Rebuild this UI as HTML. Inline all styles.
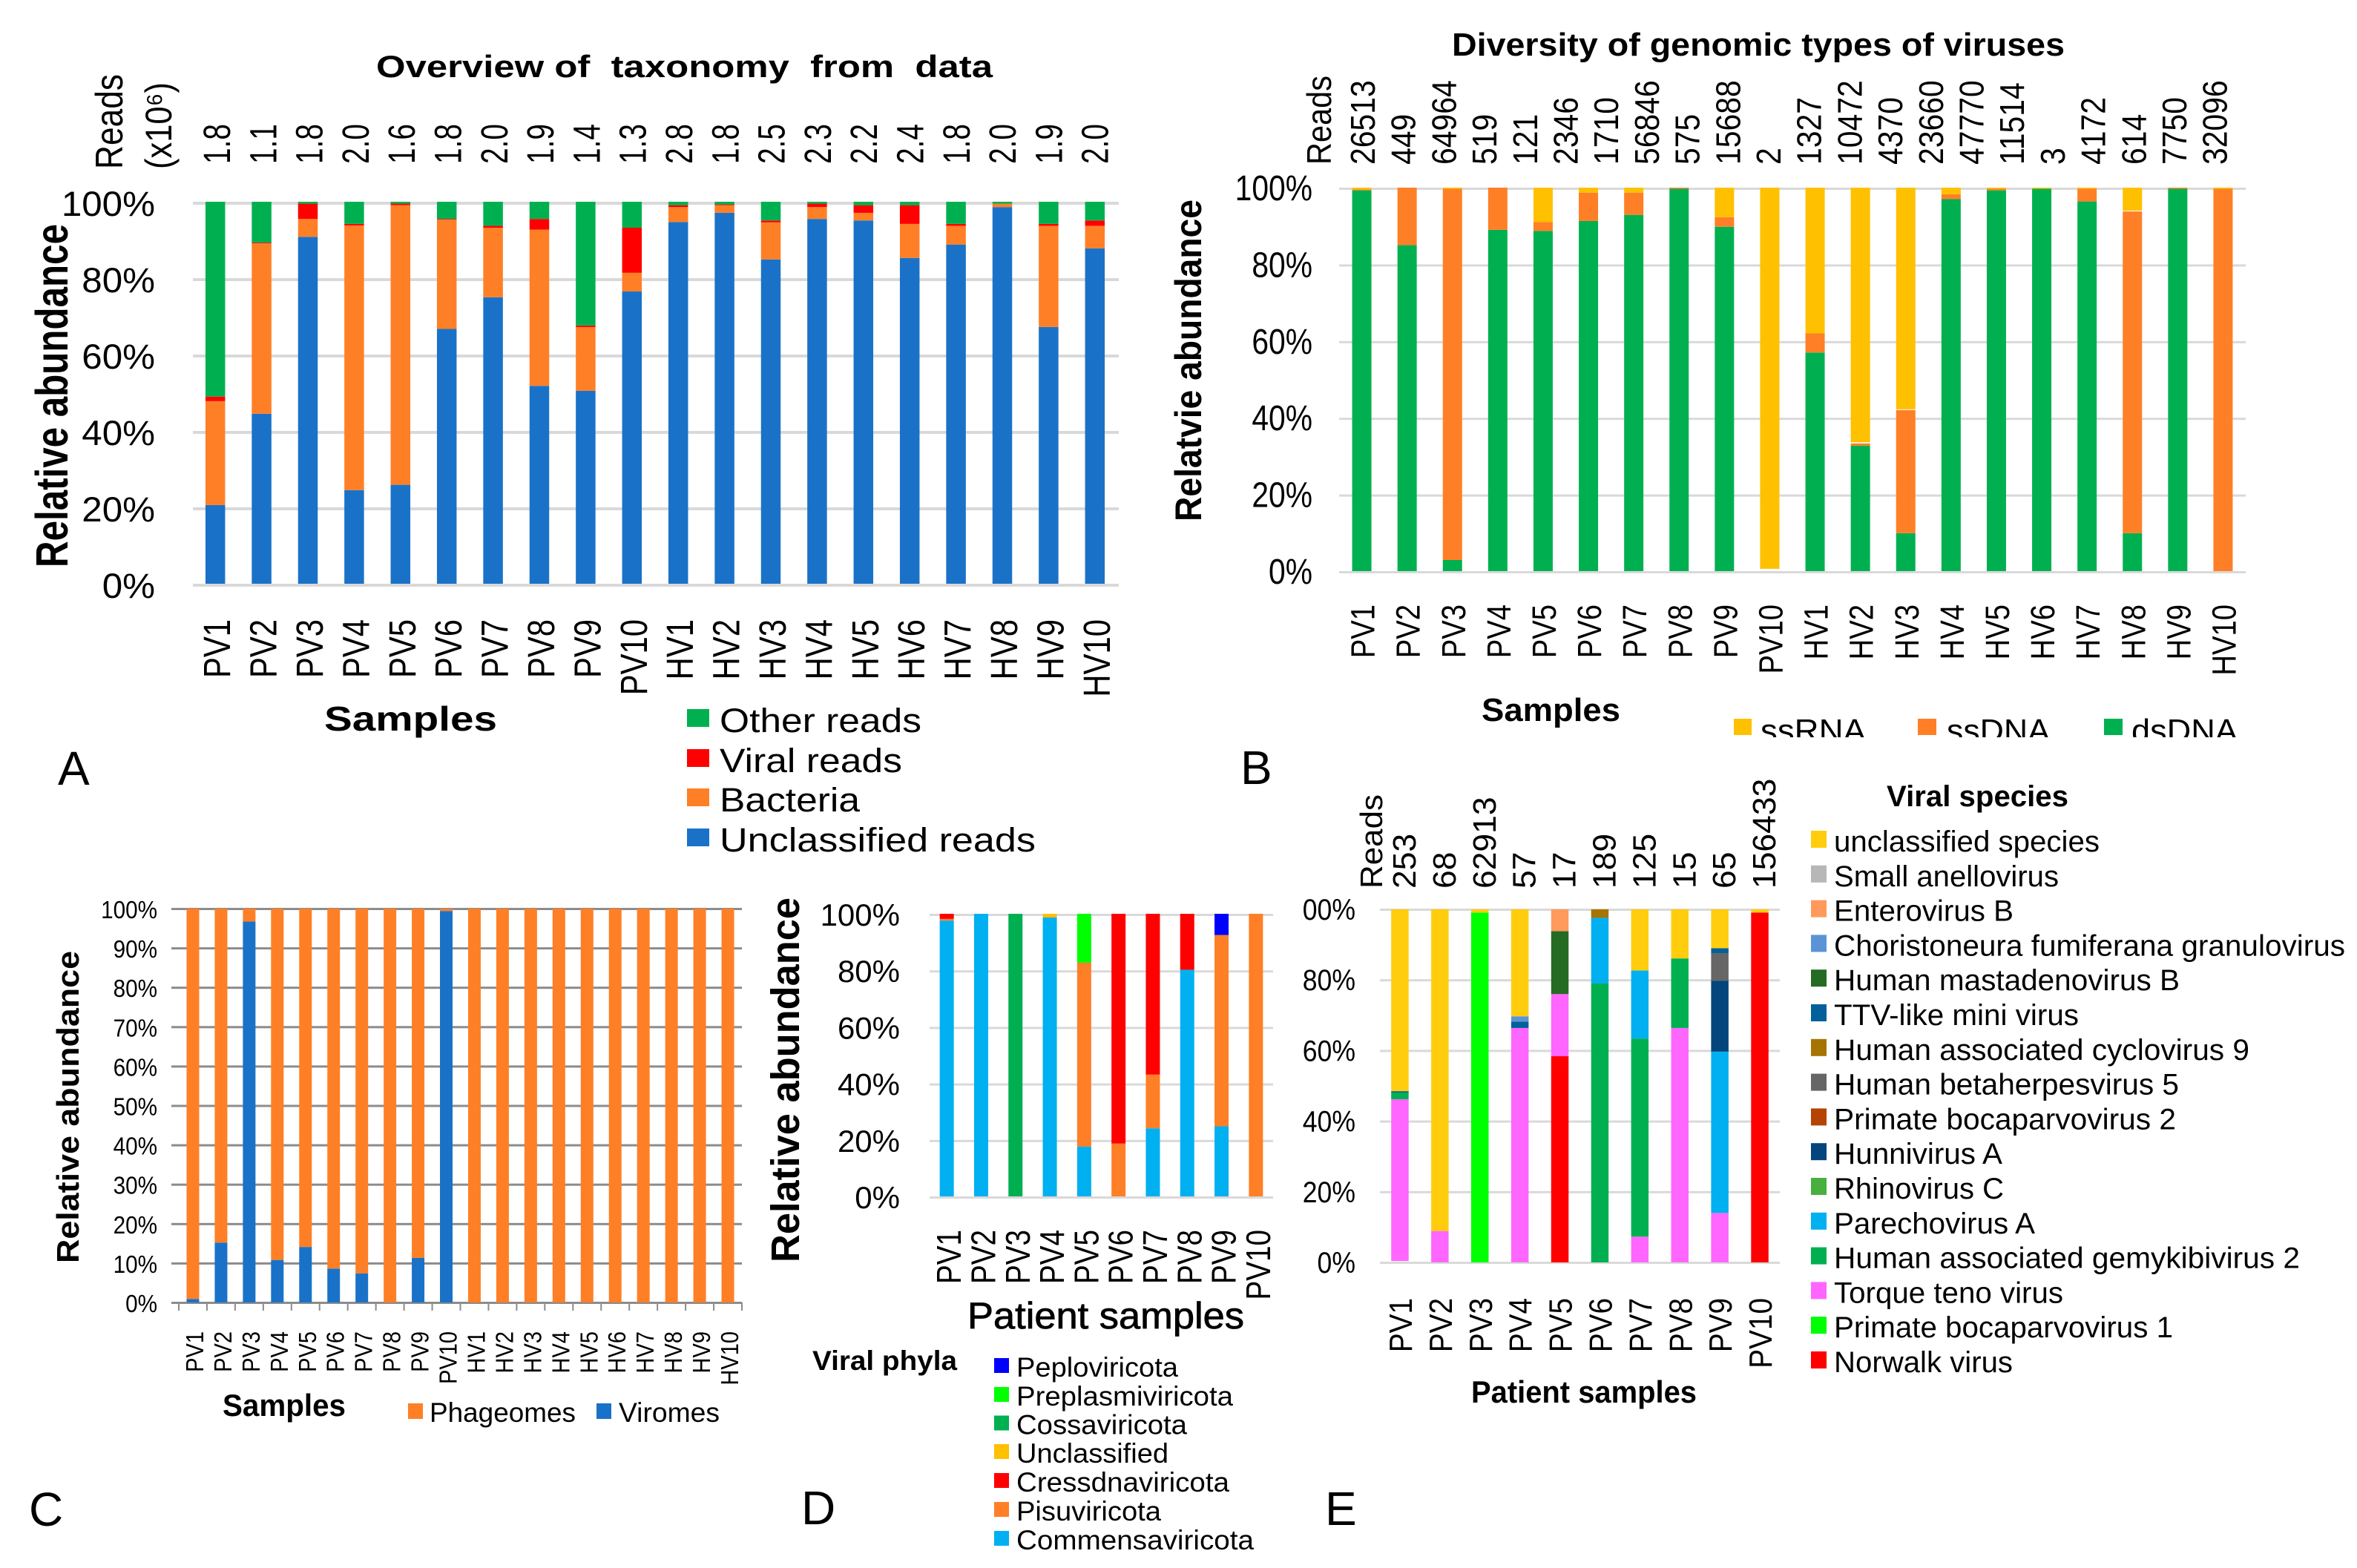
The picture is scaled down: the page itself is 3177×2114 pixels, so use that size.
<!DOCTYPE html>
<html lang="en">
<head>
<meta charset="utf-8">
<title>Virome taxonomy overview panels</title>
<style>
html,body{margin:0;padding:0;background:#fff}
svg{display:block}
text{font-family:"Liberation Sans",sans-serif;fill:#000}
.b{font-weight:700}
</style>
</head>
<body>
<svg id="figure" xmlns="http://www.w3.org/2000/svg" width="3177" height="2114" viewBox="0 0 3177 2114">
<defs>
<clipPath id="clip-b-legend"><rect x="2300" y="950" width="800" height="44"/></clipPath>
<clipPath id="clip-e-ticks"><rect x="1754" y="1190" width="100" height="560"/></clipPath>
</defs>
<rect x="0" y="0" width="3177" height="2114" fill="#fff"/>

<g id="panel-a">
<text class="b" x="507" y="104" font-size="42" textLength="831" lengthAdjust="spacingAndGlyphs" xml:space="preserve">Overview of  taxonomy  from  data</text>
<text transform="translate(165 228) rotate(-90)" font-size="52" textLength="128" lengthAdjust="spacingAndGlyphs">Reads</text>
<text transform="translate(231 228) rotate(-90)" font-size="50" textLength="117" lengthAdjust="spacingAndGlyphs">(x10⁶)</text>
<text class="b" transform="translate(91 765) rotate(-90)" font-size="61" textLength="463" lengthAdjust="spacingAndGlyphs">Relative abundance</text>
<text class="b" x="437" y="985" font-size="46" textLength="233" lengthAdjust="spacingAndGlyphs">Samples</text>
<text x="78" y="1058" font-size="64">A</text>
<g>
<rect x="926" y="956" width="30" height="24" fill="#00b050"/>
<text x="970" y="987" font-size="45" textLength="272" lengthAdjust="spacingAndGlyphs">Other reads</text>
<rect x="926" y="1010" width="30" height="24" fill="#ff0000"/>
<text x="970" y="1041" font-size="45" textLength="246" lengthAdjust="spacingAndGlyphs">Viral reads</text>
<rect x="926" y="1063" width="30" height="24" fill="#ff7f27"/>
<text x="970" y="1094" font-size="45" textLength="189" lengthAdjust="spacingAndGlyphs">Bacteria</text>
<rect x="926" y="1117" width="30" height="24" fill="#1a72c8"/>
<text x="970" y="1148" font-size="45" textLength="426" lengthAdjust="spacingAndGlyphs">Unclassified reads</text>
</g>
</g>

<g id="panel-b">
<text class="b" x="1957" y="75" font-size="44" textLength="826" lengthAdjust="spacingAndGlyphs">Diversity of genomic types of viruses</text>
<text transform="translate(1794 222) rotate(-90)" font-size="46" textLength="120" lengthAdjust="spacingAndGlyphs">Reads</text>
<text class="b" transform="translate(1619 703) rotate(-90)" font-size="50" textLength="434" lengthAdjust="spacingAndGlyphs">Relatvie abundance</text>
<text class="b" x="1997" y="972" font-size="44" textLength="187" lengthAdjust="spacingAndGlyphs">Samples</text>
<text x="1672" y="1057" font-size="64">B</text>
<g clip-path="url(#clip-b-legend)">
<rect x="2337" y="969" width="24" height="22" fill="#ffc000"/>
<text x="2373" y="1000" font-size="44" textLength="142" lengthAdjust="spacingAndGlyphs">ssRNA</text>
<rect x="2585" y="969" width="25" height="22" fill="#ff7f27"/>
<text x="2624" y="1000" font-size="44" textLength="139" lengthAdjust="spacingAndGlyphs">ssDNA</text>
<rect x="2836" y="969" width="25" height="22" fill="#00b050"/>
<text x="2873" y="1000" font-size="44" textLength="143" lengthAdjust="spacingAndGlyphs">dsDNA</text>
</g>
</g>

<g id="panel-c">
<text class="b" transform="translate(106 1703) rotate(-90)" font-size="42" textLength="421" lengthAdjust="spacingAndGlyphs">Relative abundance</text>
<text class="b" x="300" y="1909" font-size="42" textLength="166" lengthAdjust="spacingAndGlyphs">Samples</text>
<text x="39" y="2057" font-size="64">C</text>
<g>
<rect x="550" y="1892" width="20" height="21" fill="#ff7f27"/>
<text x="579" y="1917" font-size="37" textLength="197" lengthAdjust="spacingAndGlyphs">Phageomes</text>
<rect x="804" y="1892" width="20" height="21" fill="#1a72c8"/>
<text x="834" y="1917" font-size="37" textLength="136" lengthAdjust="spacingAndGlyphs">Viromes</text>
</g>
</g>

<g id="panel-d">
<text class="b" transform="translate(1077 1702) rotate(-90)" font-size="54" textLength="492" lengthAdjust="spacingAndGlyphs">Relative abundance</text>
<text x="1304" y="1791" font-size="50" textLength="373" lengthAdjust="spacingAndGlyphs" stroke="#000" stroke-width="0.8">Patient samples</text>
<text x="1080" y="2055" font-size="64">D</text>
<text class="b" x="1095" y="1847" font-size="37" textLength="195" lengthAdjust="spacingAndGlyphs">Viral phyla</text>
<g>
<rect x="1340" y="1831" width="20" height="20" fill="#0000ff"/>
<text x="1370" y="1856" font-size="37" textLength="218" lengthAdjust="spacingAndGlyphs">Peploviricota</text>
<rect x="1340" y="1870" width="20" height="20" fill="#00ff00"/>
<text x="1370" y="1895" font-size="37" textLength="292" lengthAdjust="spacingAndGlyphs">Preplasmiviricota</text>
<rect x="1340" y="1908.500" width="20" height="20" fill="#00b050"/>
<text x="1370" y="1933.500" font-size="37" textLength="230" lengthAdjust="spacingAndGlyphs">Cossaviricota</text>
<rect x="1340" y="1947" width="20" height="20" fill="#ffc000"/>
<text x="1370" y="1972" font-size="37" textLength="205" lengthAdjust="spacingAndGlyphs">Unclassified</text>
<rect x="1340" y="1986" width="20" height="20" fill="#ff0000"/>
<text x="1370" y="2011" font-size="37" textLength="287" lengthAdjust="spacingAndGlyphs">Cressdnaviricota</text>
<rect x="1340" y="2025" width="20" height="20" fill="#ff7f27"/>
<text x="1370" y="2050" font-size="37" textLength="195" lengthAdjust="spacingAndGlyphs">Pisuviricota</text>
<rect x="1340" y="2064" width="20" height="20" fill="#00b0f0"/>
<text x="1370" y="2089" font-size="37" textLength="320" lengthAdjust="spacingAndGlyphs">Commensaviricota</text>
</g>
</g>

<g id="panel-e">
<text transform="translate(1863 1198) rotate(-90)" font-size="42" textLength="127" lengthAdjust="spacingAndGlyphs">Reads</text>
<text class="b" x="1983" y="1891" font-size="42" textLength="304" lengthAdjust="spacingAndGlyphs">Patient samples</text>
<text x="1786" y="2056" font-size="64">E</text>
<text class="b" x="2543" y="1087" font-size="40" textLength="245" lengthAdjust="spacingAndGlyphs">Viral species</text>
<g>
<rect x="2441" y="1120" width="21" height="23" fill="#ffcd0d"/>
<text x="2472" y="1148" font-size="40" textLength="358" lengthAdjust="spacingAndGlyphs">unclassified species</text>
<rect x="2441" y="1166.800" width="21" height="23" fill="#b7b7b7"/>
<text x="2472" y="1194.800" font-size="40" textLength="303" lengthAdjust="spacingAndGlyphs">Small anellovirus</text>
<rect x="2441" y="1213.600" width="21" height="23" fill="#ff9a5c"/>
<text x="2472" y="1241.600" font-size="40" textLength="242" lengthAdjust="spacingAndGlyphs">Enterovirus B</text>
<rect x="2441" y="1260.400" width="21" height="23" fill="#5b94d6"/>
<text x="2472" y="1288.400" font-size="40" textLength="689" lengthAdjust="spacingAndGlyphs">Choristoneura fumiferana granulovirus</text>
<rect x="2441" y="1307.200" width="21" height="23" fill="#266b23"/>
<text x="2472" y="1335.200" font-size="40" textLength="466" lengthAdjust="spacingAndGlyphs">Human mastadenovirus B</text>
<rect x="2441" y="1354" width="21" height="23" fill="#03609a"/>
<text x="2472" y="1382" font-size="40" textLength="330" lengthAdjust="spacingAndGlyphs">TTV-like mini virus</text>
<rect x="2441" y="1400.800" width="21" height="23" fill="#a67400"/>
<text x="2472" y="1428.800" font-size="40" textLength="560" lengthAdjust="spacingAndGlyphs">Human associated cyclovirus 9</text>
<rect x="2441" y="1447.600" width="21" height="23" fill="#666666"/>
<text x="2472" y="1475.600" font-size="40" textLength="465" lengthAdjust="spacingAndGlyphs">Human betaherpesvirus 5</text>
<rect x="2441" y="1494.400" width="21" height="23" fill="#b54402"/>
<text x="2472" y="1522.400" font-size="40" textLength="461" lengthAdjust="spacingAndGlyphs">Primate bocaparvovirus 2</text>
<rect x="2441" y="1541.200" width="21" height="23" fill="#03457c"/>
<text x="2472" y="1569.200" font-size="40" textLength="227" lengthAdjust="spacingAndGlyphs">Hunnivirus A</text>
<rect x="2441" y="1588" width="21" height="23" fill="#47b03f"/>
<text x="2472" y="1616" font-size="40" textLength="229" lengthAdjust="spacingAndGlyphs">Rhinovirus C</text>
<rect x="2441" y="1634.800" width="21" height="23" fill="#00b0f0"/>
<text x="2472" y="1662.800" font-size="40" textLength="271" lengthAdjust="spacingAndGlyphs">Parechovirus A</text>
<rect x="2441" y="1681.600" width="21" height="23" fill="#00b050"/>
<text x="2472" y="1709.600" font-size="40" textLength="628" lengthAdjust="spacingAndGlyphs">Human associated gemykibivirus 2</text>
<rect x="2441" y="1728.400" width="21" height="23" fill="#ff66ff"/>
<text x="2472" y="1756.400" font-size="40" textLength="309" lengthAdjust="spacingAndGlyphs">Torque teno virus</text>
<rect x="2441" y="1775.200" width="21" height="23" fill="#00ff00"/>
<text x="2472" y="1803.200" font-size="40" textLength="457" lengthAdjust="spacingAndGlyphs">Primate bocaparvovirus 1</text>
<rect x="2441" y="1822" width="21" height="23" fill="#ff0000"/>
<text x="2472" y="1850" font-size="40" textLength="241" lengthAdjust="spacingAndGlyphs">Norwalk virus</text>
</g>
</g>
</svg>

<script>
// ---- Shared categories and ticks ----
const samples20 = ['PV1','PV2','PV3','PV4','PV5','PV6','PV7','PV8','PV9','PV10','HV1','HV2','HV3','HV4','HV5','HV6','HV7','HV8','HV9','HV10'];
const patients10 = ['PV1','PV2','PV3','PV4','PV5','PV6','PV7','PV8','PV9','PV10'];
const ticks20 = [0,20,40,60,80,100];
const ticks10 = [0,10,20,30,40,50,60,70,80,90,100];

// ---- Panel A ----
const aReads = ['1.8','1.1','1.8','2.0','1.6','1.8','2.0','1.9','1.4','1.3','2.8','1.8','2.5','2.3','2.2','2.4','1.8','2.0','1.9','2.0'];
const aUnclassified = [20.6,44.5,90.8,24.5,25.9,66.7,75,51.8,50.5,76.5,94.7,97.1,84.9,95.5,95.1,85.3,88.8,98.6,67.2,87.8];
const aBacteria = [27.2,44.6,4.7,69.3,73.2,28.6,18.2,40.9,16.7,4.9,3.9,2.0,9.7,3.1,2.0,8.9,4.9,0.9,26.5,5.9];
const aViral = [1.2,0.2,4.0,0.4,0.4,0.2,0.5,2.8,0.4,11.8,0.5,0.2,0.5,0.9,2.0,4.9,0.5,0,0.5,1.4];
const aOther = [51,10.7,0.5,5.8,0.5,4.5,6.3,4.5,32.4,6.8,0.9,0.7,4.9,0.5,0.9,0.9,5.8,0.5,5.8,4.9];

// ---- Panel B ----
const bReads = ['26513','449','64964','519','121','2346','1710','56846','575','15688','2','1327','10472','4370','23660','47770','11514','3','4172','614','7750','32096'];
const bDsDNA = [99.3,85,2.9,89,88.7,91.3,92.9,99.7,89.8,0,57,32.7,9.9,97,99.3,99.7,96.4,9.9,99.7,0];
const bSsDNA = [0.2,15,96.8,11,2.3,7.4,5.8,0.3,2.5,0,5,0.6,32.1,1.3,0.4,0,3.3,83.9,0.3,99.7];
const bOther = [0,0,0,0,0,0,0,0,0,0.6,0,0.3,0.2,0,0,0,0,0.2,0,0];
const bSsRNA = [0.5,0,0.3,0,9,1.3,1.3,0,7.7,99.4,38,66.4,57.8,1.7,0.3,0.3,0.3,6,0,0.3];

// ---- Panel C ----
const cViromes = [0.9,15.2,96.7,10.8,14.1,8.6,7.4,0,11.3,99.4,0,0,0,0,0,0,0,0,0,0];
const cPhageomes = [99.1,84.8,3.3,89.2,85.9,91.4,92.6,100,88.7,0.6,100,100,100,100,100,100,100,100,100,100];

// ---- Panel D ----
const dCommensa = [97.6,100,0,98.7,17.6,0,24.1,80.2,24.8,0];
const dPisu = [0.6,0,0,0,65.1,18.7,19,0,67.7,100];
const dCressdna = [1.8,0,0,0,0,81.3,56.9,19.8,0,0];
const dUnclassified = [0,0,0,1.3,0,0,0,0,0,0];
const dCossa = [0,0,100,0,0,0,0,0,0,0];
const dPreplasmi = [0,0,0,0,17.3,0,0,0,0,0];
const dPeplo = [0,0,0,0,0,0,0,0,7.5,0];

// ---- Panel E ----
const eNoData = [0.4,0,0,0,0,0,0,0,0,0];
const eReads = ['253','68','62913','57','17','189','125','15','65','156433'];
const eNorwalk = [0,0,0,0,58.4,0,0,0,0,99.1];
const ePrimate1 = [0,0,99.1,0,0,0,0,0,0,0];
const eTorque = [45.8,8.9,0,66.4,17.6,0,7.3,66.4,14,0];
const eGemyki = [1.9,0,0,0,0,79,56.1,19.7,0,0];
const eParecho = [0,0,0,0,0,18.6,19.3,0,45.7,0];
const eHunni = [0,0,0,0,0,0,0,0,20.1,0];
const eBeta = [0,0,0,0,0,0,0,0,7.8,0];
const eCyclo = [0,0,0,0,0,2.4,0,0,0,0];
const eTTV = [0.4,0,0,1.8,0,0,0,0,1.4,0];
const eMast = [0,0,0,0,17.8,0,0,0,0,0];
const eChori = [0,0,0,1.5,0,0,0,0,0,0];
const eEntero = [0,0,0,0,6.2,0,0,0,0,0];
const eUnclass = [51.5,91.1,0.9,30.3,0,0,17.3,13.9,11,0.9];

const NS = 'http://www.w3.org/2000/svg';

function makeText(parent, str, size, anchor, transform) {
  const t = document.createElementNS(NS, 'text');
  t.setAttribute('font-size', size);
  t.setAttribute('text-anchor', anchor);
  t.setAttribute('transform', transform);
  t.textContent = str;
  parent.appendChild(t);
  return t;
}

function drawChart(cfg) {
  const root = document.getElementById(cfg.panel);
  const plot = document.createElementNS(NS, 'g');
  
  
  root.appendChild(plot);

  const step = (cfg.x1 - cfg.catStart) / cfg.categories.length;
  const xC = i => cfg.catStart + step * (i + 0.5) + cfg.barShift;
  const yV = v => cfg.y0 + (cfg.y100 - cfg.y0) * v / 100;

  // gridlines and tick labels
  const tickGroup = document.createElementNS(NS, 'g');
  
  
  if (cfg.tickClip) tickGroup.setAttribute('clip-path', cfg.tickClip);
  plot.appendChild(tickGroup);
  cfg.ticks.forEach(v => {
    const g = document.createElementNS(NS, 'rect');
    g.setAttribute('x', cfg.gridStart);
    g.setAttribute('y', yV(v) + cfg.gridShift);
    g.setAttribute('width', cfg.x1 - cfg.gridStart);
    g.setAttribute('height', cfg.gridH);
    g.setAttribute('fill', cfg.gridColor);
    
    
    plot.appendChild(g);
    const t = makeText(tickGroup, v + '%', cfg.tickSize, 'end',
      'translate(' + cfg.tickRight + ' ' + (yV(v) + cfg.tickDy) + ') scale(' + cfg.tickK + ' 1)');
    
    
  });

  // tick marks under the axis (panel C)
  if (cfg.catTicks) {
    for (let i = 0; i <= cfg.categories.length; i++) {
      const m = document.createElementNS(NS, 'rect');
      m.setAttribute('x', cfg.catStart + step * i - 1);
      m.setAttribute('y', cfg.y0);
      m.setAttribute('width', 2);
      m.setAttribute('height', 11);
      m.setAttribute('fill', cfg.gridColor);
      
      
      plot.appendChild(m);
    }
  }

  // stacked bars (a series with color "none" leaves a small white gap in the stack)
  cfg.categories.forEach((c, i) => {
    let base = 0;
    cfg.series.forEach(s => {
      const v = s.values[i];
      if (v > 0) {
        const r = document.createElementNS(NS, 'rect');
        r.setAttribute('x', xC(i) - cfg.barW / 2);
        r.setAttribute('y', yV(base + v));
        r.setAttribute('width', cfg.barW);
        r.setAttribute('height', yV(base) - yV(base + v));
        r.setAttribute('fill', s.color);
        
        
        plot.appendChild(r);
      }
      base += v;
    });
    const t = makeText(plot, c, cfg.catSize, 'end',
      'translate(' + (xC(i) + cfg.catDx) + ' ' + cfg.catY + ') rotate(-90) scale(' + cfg.catK + ' 1)');
    
    
  });

  // reads row above the bars
  if (cfg.reads) {
    cfg.reads.forEach((r, i) => {
      const t = makeText(plot, r, cfg.readSize, 'start',
        'translate(' + (cfg.readStart + cfg.readStep * i + cfg.readDx) + ' ' + cfg.readY + ') rotate(-90) scale(' + cfg.readK + ' 1)');
      
      
    });
  }
}

drawChart({
  panel:'panel-a', categories:samples20, ticks:ticks20, reads:aReads, barShift:-1,
  series:[{values:aUnclassified,color:'#1a72c8'},{values:aBacteria,color:'#ff7f27'},{values:aViral,color:'#ff0000'},{values:aOther,color:'#00b050'}],
  gridStart:260, catStart:260, x1:1508, y100:272, y0:787, gridColor:'#d9d9d9', gridH:4, gridShift:0, barW:26.5,
  tickSize:47, tickK:1.05, tickRight:209, tickDy:19,
  catSize:51, catK:0.82, catDx:20, catY:835,
  readSize:51, readK:0.76, readStart:292, readStep:62.3, readDx:18, readY:221
});
drawChart({
  panel:'panel-b', categories:samples20, ticks:ticks20, reads:bReads, barShift:0,
  series:[{values:bDsDNA,color:'#00b050'},{values:bSsDNA,color:'#ff7f27'},{values:bOther,color:'none'},{values:bSsRNA,color:'#ffc000'}],
  gridStart:1805, catStart:1805, x1:3027, y100:253, y0:770, gridColor:'#d9d9d9', gridH:3, gridShift:0, barW:26,
  tickSize:48, tickK:0.85, tickRight:1769, tickDy:17,
  catSize:45, catK:0.85, catDx:17, catY:815,
  readSize:46, readK:0.89, readStart:1837, readStep:54.7, readDx:16, readY:222
});
drawChart({
  panel:'panel-c', categories:samples20, ticks:ticks10, catTicks:true, barShift:0,
  series:[{values:cViromes,color:'#1a72c8'},{values:cPhageomes,color:'#ff7f27'}],
  gridStart:231, catStart:241, x1:1000, y100:1225, y0:1756, gridColor:'#8c8c8c', gridH:3, gridShift:-1, barW:17,
  tickSize:33, tickK:0.9, tickRight:212, tickDy:13,
  catSize:33, catK:0.88, catDx:14, catY:1795
});
drawChart({
  panel:'panel-d', categories:patients10, ticks:ticks20, barShift:0,
  series:[{values:dCommensa,color:'#00b0f0'},{values:dPisu,color:'#ff7f27'},{values:dCressdna,color:'#ff0000'},{values:dUnclassified,color:'#ffc000'},{values:dCossa,color:'#00b050'},{values:dPreplasmi,color:'#00ff00'},{values:dPeplo,color:'#0000ff'}],
  gridStart:1253, catStart:1253, x1:1716, y100:1232, y0:1613, gridColor:'#d9d9d9', gridH:3, gridShift:0, barW:19,
  tickSize:42, tickK:1, tickRight:1213, tickDy:16,
  catSize:46, catK:0.84, catDx:19, catY:1658
});
drawChart({
  panel:'panel-e', categories:patients10, ticks:ticks20, reads:eReads, tickClip:'url(#clip-e-ticks)', barShift:0,
  series:[{values:eNoData,color:'none'},{values:eNorwalk,color:'#ff0000'},{values:ePrimate1,color:'#00ff00'},{values:eTorque,color:'#ff66ff'},{values:eGemyki,color:'#00b050'},{values:eParecho,color:'#00b0f0'},{values:eHunni,color:'#03457c'},{values:eBeta,color:'#666666'},{values:eCyclo,color:'#a67400'},{values:eTTV,color:'#03609a'},{values:eMast,color:'#266b23'},{values:eChori,color:'#5b94d6'},{values:eEntero,color:'#ff9a5c'},{values:eUnclass,color:'#ffcd0d'}],
  gridStart:1860, catStart:1860, x1:2399, y100:1226, y0:1702, gridColor:'#d9d9d9', gridH:3, gridShift:-1, barW:23.5,
  tickSize:40, tickK:0.89, tickRight:1827, tickDy:14,
  catSize:44, catK:0.88, catDx:16, catY:1750,
  readSize:44, readK:1.01, readStart:1887, readStep:53.9, readDx:21, readY:1198
});
</script>
</body>
</html>
